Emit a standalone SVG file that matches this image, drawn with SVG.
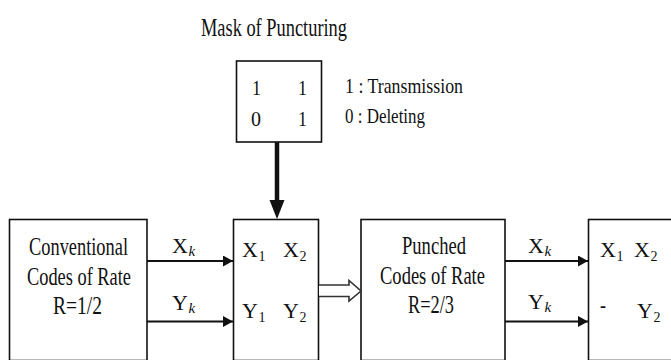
<svg xmlns="http://www.w3.org/2000/svg" width="671" height="360" viewBox="0 0 671 360">
<defs>
<style>
.t{font-family:"Liberation Serif","Times New Roman",serif;fill:#111;}
.L{font-size:22px;}
.box{fill:#fff;stroke:#111;stroke-width:1.6;}
.ln{stroke:#111;stroke-width:2;fill:none;}
.s{font-size:14px;}
.k{font-size:15px;font-style:italic;}
</style>
<marker id="ah" markerWidth="10" markerHeight="11" refX="10" refY="5.5" orient="auto" markerUnits="userSpaceOnUse">
<path d="M0,0 L10,5.5 L0,11 Z" fill="#111"/>
</marker>
</defs>
<rect width="671" height="360" fill="#fff"/>

<g id="title">
<text class="t" x="201" y="36" font-size="25" textLength="146" lengthAdjust="spacingAndGlyphs">Mask of Puncturing</text>
</g>

<g id="mask">
<rect class="box" x="236.5" y="61" width="85" height="81"/>
<text class="t" x="252" y="94.5" font-size="22" textLength="9" lengthAdjust="spacingAndGlyphs">1</text>
<text class="t" x="298" y="94.5" font-size="22" textLength="9" lengthAdjust="spacingAndGlyphs">1</text>
<text class="t" x="251" y="126" font-size="22" textLength="10" lengthAdjust="spacingAndGlyphs">0</text>
<text class="t" x="298" y="126" font-size="22" textLength="9" lengthAdjust="spacingAndGlyphs">1</text>
</g>

<g id="legend">
<text class="t" x="345" y="92.5" font-size="22" textLength="118" lengthAdjust="spacingAndGlyphs">1 : Transmission</text>
<text class="t" x="345" y="122.5" font-size="22" textLength="80" lengthAdjust="spacingAndGlyphs">0 : Deleting</text>
</g>

<g id="conventional">
<rect class="box" x="9.5" y="219.5" width="137.5" height="141"/>
<text class="t" x="29" y="255" font-size="25" textLength="99" lengthAdjust="spacingAndGlyphs">Conventional</text>
<text class="t" x="27" y="284.5" font-size="25" textLength="104" lengthAdjust="spacingAndGlyphs">Codes of Rate</text>
<text class="t" x="53" y="314" font-size="25" textLength="49" lengthAdjust="spacingAndGlyphs">R=1/2</text>
</g>

<g id="matrix1">
<rect class="box" x="233.5" y="219.5" width="85" height="141"/>
<text class="t L" x="242" y="256.5">X</text>
<text class="t s" x="258.5" y="260.5">1</text>
<text class="t L" x="283" y="256.5">X</text>
<text class="t s" x="299.5" y="260.5">2</text>
<text class="t L" x="242" y="318">Y</text>
<text class="t s" x="258.5" y="322">1</text>
<text class="t L" x="283" y="318">Y</text>
<text class="t s" x="299.5" y="322">2</text>
</g>

<g id="punched">
<rect class="box" x="361" y="219.5" width="144" height="141"/>
<text class="t" x="402" y="253.5" font-size="25" textLength="64" lengthAdjust="spacingAndGlyphs">Punched</text>
<text class="t" x="380" y="283.5" font-size="25" textLength="105" lengthAdjust="spacingAndGlyphs">Codes of Rate</text>
<text class="t" x="408" y="313" font-size="25" textLength="46" lengthAdjust="spacingAndGlyphs">R=2/3</text>
</g>

<g id="matrix2">
<rect class="box" x="588.5" y="219.5" width="100" height="141"/>
<text class="t L" x="600" y="256.5">X</text>
<text class="t s" x="616.5" y="260.5">1</text>
<text class="t L" x="634" y="256.5">X</text>
<text class="t s" x="650.5" y="260.5">2</text>
<text class="t" x="600" y="313" font-size="23" textLength="6" lengthAdjust="spacingAndGlyphs">-</text>
<text class="t L" x="637" y="318">Y</text>
<text class="t s" x="653.5" y="322">2</text>
</g>

<g id="connectors">
<line x1="277" y1="142" x2="277" y2="202" stroke="#111" stroke-width="4.5"/>
<path d="M269.5,200 L284.5,200 L277,219 Z" fill="#111"/>
<line class="ln" x1="147" y1="261" x2="233" y2="261" marker-end="url(#ah)"/>
<line class="ln" x1="147" y1="321.5" x2="233" y2="321.5" marker-end="url(#ah)"/>
<line class="ln" x1="505" y1="261" x2="588" y2="261" marker-end="url(#ah)"/>
<line class="ln" x1="505" y1="321.5" x2="588" y2="321.5" marker-end="url(#ah)"/>
<path d="M319,285 L349,285 L349,280.5 L361,291 L349,301 L349,296.5 L319,296.5" fill="#fff" stroke="#333" stroke-width="1.6"/>
<text class="t L" x="172" y="253">X</text>
<text class="t k" x="188.5" y="256">k</text>
<text class="t L" x="172" y="310">Y</text>
<text class="t k" x="188.5" y="313">k</text>
<text class="t L" x="528" y="253">X</text>
<text class="t k" x="544.5" y="256">k</text>
<text class="t L" x="528" y="309">Y</text>
<text class="t k" x="544.5" y="312">k</text>
</g>
</svg>
